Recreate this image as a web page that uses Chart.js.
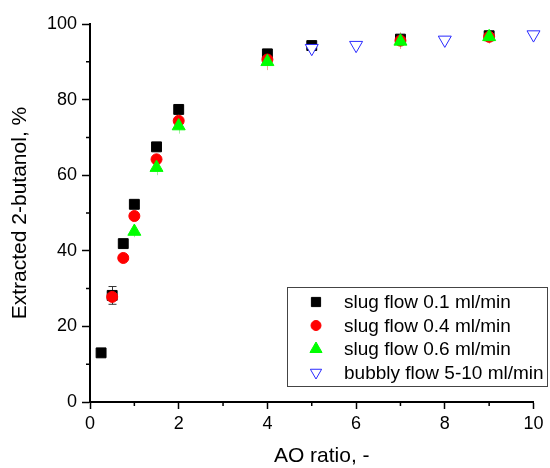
<!DOCTYPE html>
<html><head><meta charset="utf-8">
<script src="https://cdn.jsdelivr.net/npm/chart.js@4/dist/chart.umd.min.js"></script>
<style>html,body{margin:0;padding:0;background:#fff;}#wrap{width:550px;height:468px;}</style>
</head><body><div id="wrap"><canvas id="c" width="550" height="468"></canvas></div>
<script>
// ---- data ----
const seriesLabels = ['slug flow 0.1 ml/min', 'slug flow 0.4 ml/min', 'slug flow 0.6 ml/min', 'bubbly flow 5-10 ml/min'];
const slug01X = [0.25, 0.5, 0.75, 1, 1.5, 2, 4, 5, 7, 9];
const slug01Y = [13.0, 28.2, 41.9, 52.3, 67.5, 77.4, 92.1, 94.3, 96.0, 96.9];
const slug01Err = [0, 2.35, 0, 0, 0, 0, 0, 0, 0, 0];
const slug04X = [0.5, 0.75, 1, 1.5, 2, 4, 7, 9];
const slug04Y = [27.8, 38.1, 49.2, 64.2, 74.4, 90.6, 95.6, 96.6];
const slug04Err = [0, 0, 0, 0, 0, 2.8, 2.2, 1.8];
const slug06X = [1, 1.5, 2, 4, 7, 9];
const slug06Y = [45.1, 62.0, 73.0, 90.0, 95.4, 96.6];
const slug06Err = [1.5, 2.0, 2.0, 0, 0, 0];
const bubblyX = [5, 6, 8, 10];
const bubblyY = [93.6, 94.4, 95.8, 97.2];
const xTickValues = [0, 2, 4, 6, 8, 10];
const yTickValues = [0, 20, 40, 60, 80, 100];
const xMinorTicks = [1, 3, 5, 7, 9];
const yMinorTicks = [10, 30, 50, 70, 90];
const xTitle = 'AO ratio, -';
const yTitle = 'Extracted 2-butanol, %';

const pts = (xs, ys) => xs.map((x, i) => ({x: x, y: ys[i]}));
const FONT = '"Liberation Sans", Arial, Helvetica, sans-serif';
Chart.defaults.font.family = FONT;
Chart.defaults.color = '#000';

const errorBars = {
  id: 'errorBars',
  beforeDatasetsDraw(chart) {
    const ctx = chart.ctx, ys = chart.scales.y;
    chart.data.datasets.forEach((ds, di) => {
      if (!ds.errors) return;
      const meta = chart.getDatasetMeta(di);
      ctx.save();
      ctx.strokeStyle = ds.errorColor;
      ctx.lineWidth = 1;
      meta.data.forEach((el, i) => {
        const e = ds.errors[i];
        if (!e) return;
        const v = ds.data[i].y;
        const x = Math.round(el.x) + 0.5;
        const y1 = ys.getPixelForValue(v + e), y2 = ys.getPixelForValue(v - e);
        ctx.beginPath();
        ctx.moveTo(x, y1); ctx.lineTo(x, y2);
        if (ds.errorCap) {
          ctx.moveTo(x - ds.errorCap, y1); ctx.lineTo(x + ds.errorCap, y1);
          ctx.moveTo(x - ds.errorCap, y2); ctx.lineTo(x + ds.errorCap, y2);
        }
        ctx.stroke();
      });
      ctx.restore();
    });
  }
};

const minorTicks = {
  id: 'minorTicks',
  afterDraw(chart) {
    const ctx = chart.ctx, xs = chart.scales.x, ys = chart.scales.y, a = chart.chartArea;
    ctx.save();
    ctx.strokeStyle = '#000';
    ctx.lineWidth = 1.5;
    ctx.beginPath();
    xMinorTicks.forEach(v => { const p = xs.getPixelForValue(v); ctx.moveTo(p, a.bottom); ctx.lineTo(p, a.bottom + 4); });
    yMinorTicks.forEach(v => { const p = ys.getPixelForValue(v); ctx.moveTo(a.left, p); ctx.lineTo(a.left - 4, p); });
    ctx.stroke();
    // x axis title (drawn slightly right of centre, as in the original)
    ctx.fillStyle = '#000';
    ctx.font = '21px ' + FONT;
    ctx.textAlign = 'center';
    ctx.textBaseline = 'middle';
    ctx.fillText(xTitle, (a.left + a.right) / 2 + 10, 456);
    ctx.restore();
  }
};

const boxLegend = {
  id: 'boxLegend',
  afterDraw(chart) {
    const ctx = chart.ctx;
    const bx = 287.5, by = 287.5, bw = 260, bh = 99;
    ctx.save();
    ctx.fillStyle = '#fff';
    ctx.fillRect(bx, by, bw, bh);
    ctx.strokeStyle = '#444';
    ctx.lineWidth = 1;
    ctx.strokeRect(bx, by, bw, bh);
    const rows = [302, 325.5, 349, 372.5];
    ctx.font = '19px ' + FONT;
    ctx.textBaseline = 'middle';
    ctx.textAlign = 'left';
    chart.data.datasets.forEach((ds, i) => {
      ctx.fillStyle = ds.backgroundColor;
      ctx.strokeStyle = ds.borderColor;
      ctx.lineWidth = ds.borderWidth;
      Chart.helpers.drawPoint(ctx, {pointStyle: ds.pointStyle, rotation: ds.pointRotation || 0, radius: ds.legendRadius, borderWidth: ds.borderWidth}, 316, rows[i]);
      ctx.fillStyle = '#000';
      ctx.fillText(ds.label, 344, rows[i] + 1);
    });
    ctx.restore();
  }
};

new Chart(document.getElementById('c'), {
  type: 'scatter',
  data: {
    datasets: [
      {label: seriesLabels[0], data: pts(slug01X, slug01Y), errors: slug01Err, errorColor: '#333', errorCap: 4,
       pointStyle: 'rect', pointRadius: 7, legendRadius: 6.5, backgroundColor: '#000', borderColor: '#000', borderWidth: 1, order: 4, clip: false},
      {label: seriesLabels[1], data: pts(slug04X, slug04Y), errors: slug04Err, errorColor: '#f0a890', errorCap: 0,
       pointStyle: 'circle', pointRadius: 5.5, legendRadius: 5, backgroundColor: '#ff0000', borderColor: '#ff0000', borderWidth: 1, order: 3, clip: false},
      {label: seriesLabels[2], data: pts(slug06X, slug06Y), errors: slug06Err, errorColor: '#a0f0a0', errorCap: 0,
       pointStyle: 'triangle', pointRadius: 7.5, legendRadius: 7, backgroundColor: '#00ff00', borderColor: '#00ff00', borderWidth: 1, order: 2, clip: false},
      {label: seriesLabels[3], data: pts(bubblyX, bubblyY),
       pointStyle: 'triangle', pointRotation: 180, rotation: 180, pointRadius: 7.5, legendRadius: 6.5, backgroundColor: '#fff', borderColor: '#2a2aff', borderWidth: 1, order: 1, clip: false}
    ]
  },
  options: {
    responsive: false,
    animation: false,
    devicePixelRatio: 1,
    layout: {padding: {left: 0, right: 16.5, top: 24, bottom: 0}},
    plugins: {legend: {display: false}, tooltip: {enabled: false}},
    scales: {
      x: {
        type: 'linear', min: 0, max: 10,
        afterBuildTicks: s => { s.ticks = xTickValues.map(v => ({value: v})); },
        afterFit: s => { s.height = 66; },
        ticks: {font: {size: 18}, color: '#000', padding: 4},
        grid: {drawOnChartArea: false, tickLength: 7, tickWidth: 1.5, tickColor: '#000'},
        border: {display: true, color: '#000', width: 2},
        title: {display: false}
      },
      y: {
        type: 'linear', min: 0, max: 100,
        afterBuildTicks: s => { s.ticks = yTickValues.map(v => ({value: v})); },
        afterFit: s => { s.width = 90; },
        ticks: {font: {size: 18}, color: '#000', padding: 5},
        grid: {drawOnChartArea: false, tickLength: 8, tickWidth: 1.5, tickColor: '#000'},
        border: {display: true, color: '#000', width: 2},
        title: {display: true, text: yTitle, font: {size: 21, lineHeight: 1}, color: '#000', padding: {top: 10, bottom: 0}}
      }
    }
  },
  plugins: [errorBars, minorTicks, boxLegend]
});
</script>
</body></html>
